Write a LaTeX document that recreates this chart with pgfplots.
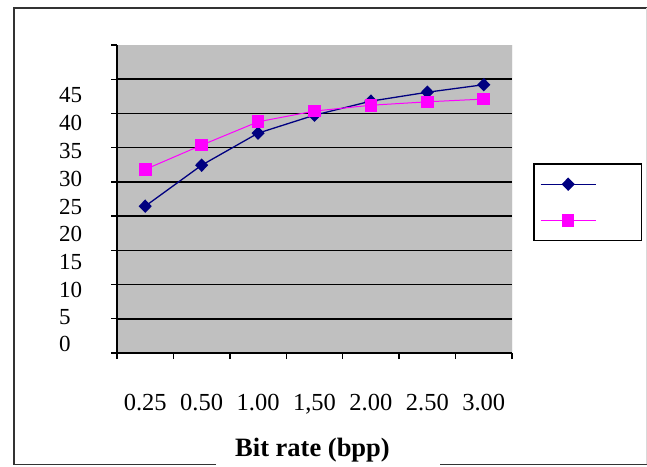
\documentclass[border=0pt]{standalone}
\usepackage{fontspec}
\setmainfont{Liberation Serif}
\usepackage{pgfplots}
\pgfplotsset{compat=1.18}
\definecolor{plotgray}{HTML}{C0C0C0}
\definecolor{navyb}{HTML}{000080}
\definecolor{magp}{HTML}{FF00FF}
\begin{document}
\begin{tikzpicture}[x=1pt,y=1pt]
\useasboundingbox (0,0) rectangle (647,466);
\fill[white] (0,0) rectangle (647,466);
\draw[line width=1.5pt, black!80] (216,1.7) -- (14,1.7) -- (14,458) -- (647,458);
\draw[line width=1.5pt, black!80] (440,1.7) -- (647,1.7);
\draw[line width=1pt, black!15] (646,1.7) -- (646,458);
\begin{axis}[
  at={(117pt,113pt)}, anchor=south west, scale only axis,
  width=395pt, height=308pt,
  xmin=0.5, xmax=7.5, ymin=0, ymax=45,
  /pgf/number format/assume math mode=true,
  axis background/.style={fill=plotgray},
  axis x line*=bottom, axis y line*=left,
  axis line style={line width=1.4pt, black},
  tick align=outside, major tick length=6pt, minor tick length=6pt,
  tick style={line width=1.4pt, black},
  xtick={0.5,1.5,...,7.5}, xticklabels={},
  ytick={5,10,...,40}, yticklabels={},
  minor ytick={0,45},
  ymajorgrids, grid style={line width=1.6pt, black},
  extra x ticks={1,2,3,4,5,6,7},
  extra x tick labels={0.25,0.50,1.00,{1,50},2.00,2.50,3.00},
  extra x tick style={major tick length=0pt, tick style={draw=none}, grid=none},
  xticklabel style={anchor=base, yshift=-57.3pt, font=\fontsize{24.5}{26}\selectfont},
  extra y ticks={1.37,5.26,9.27,13.31,17.36,21.35,25.4,29.54,33.55,37.69},
  extra y tick labels={0,5,10,15,20,25,30,35,40,45},
  extra y tick style={major tick length=0pt, tick style={draw=none}, grid=none,
    yticklabel style={anchor=west, inner sep=0pt, xshift=-58pt, font=\fontsize{23}{24}\selectfont}},
  legend style={at={(1.054,0.616)}, anchor=north west, draw=black, line width=1.3pt,
    fill=white, inner xsep=0pt, inner ysep=2.3pt, row sep=0pt, column sep=0pt,
    nodes={inner sep=0pt, text depth=0pt}},
  legend image code/.code={
    \draw[mark repeat=2, mark phase=2, #1] plot coordinates {(0pt,0pt) (27.5pt,0pt) (55pt,0pt)};
    \path[draw=none, fill=none] (-6.7pt,-18pt) rectangle (100pt,18pt);
  },
]
\addplot[navyb, line width=1.3pt, mark=diamond*, mark size=5.8pt,
  mark options={solid, fill=navyb, xscale=1.3}]
  coordinates {(1,21.45)(2,27.44)(3,32.12)(4,34.75)(5,36.8)(6,38.1)(7,39.2)};
\addlegendentry{\mbox{}}
\addplot[magp, line width=1pt, mark=square*, mark size=5.8pt,
  mark options={solid, fill=magp}]
  coordinates {(1,26.82)(2,30.37)(3,33.78)(4,35.35)(5,36.2)(6,36.7)(7,37.1)};
\addlegendentry{\mbox{}}
\draw[line width=1pt, black!35] (rel axis cs:1,0) -- (rel axis cs:1,1);
\end{axis}
\node[anchor=base, font=\bfseries\fontsize{26.5}{28}\selectfont, inner sep=0pt] at (312.5,9.5) {Bit rate (bpp)};
\end{tikzpicture}
\end{document}
